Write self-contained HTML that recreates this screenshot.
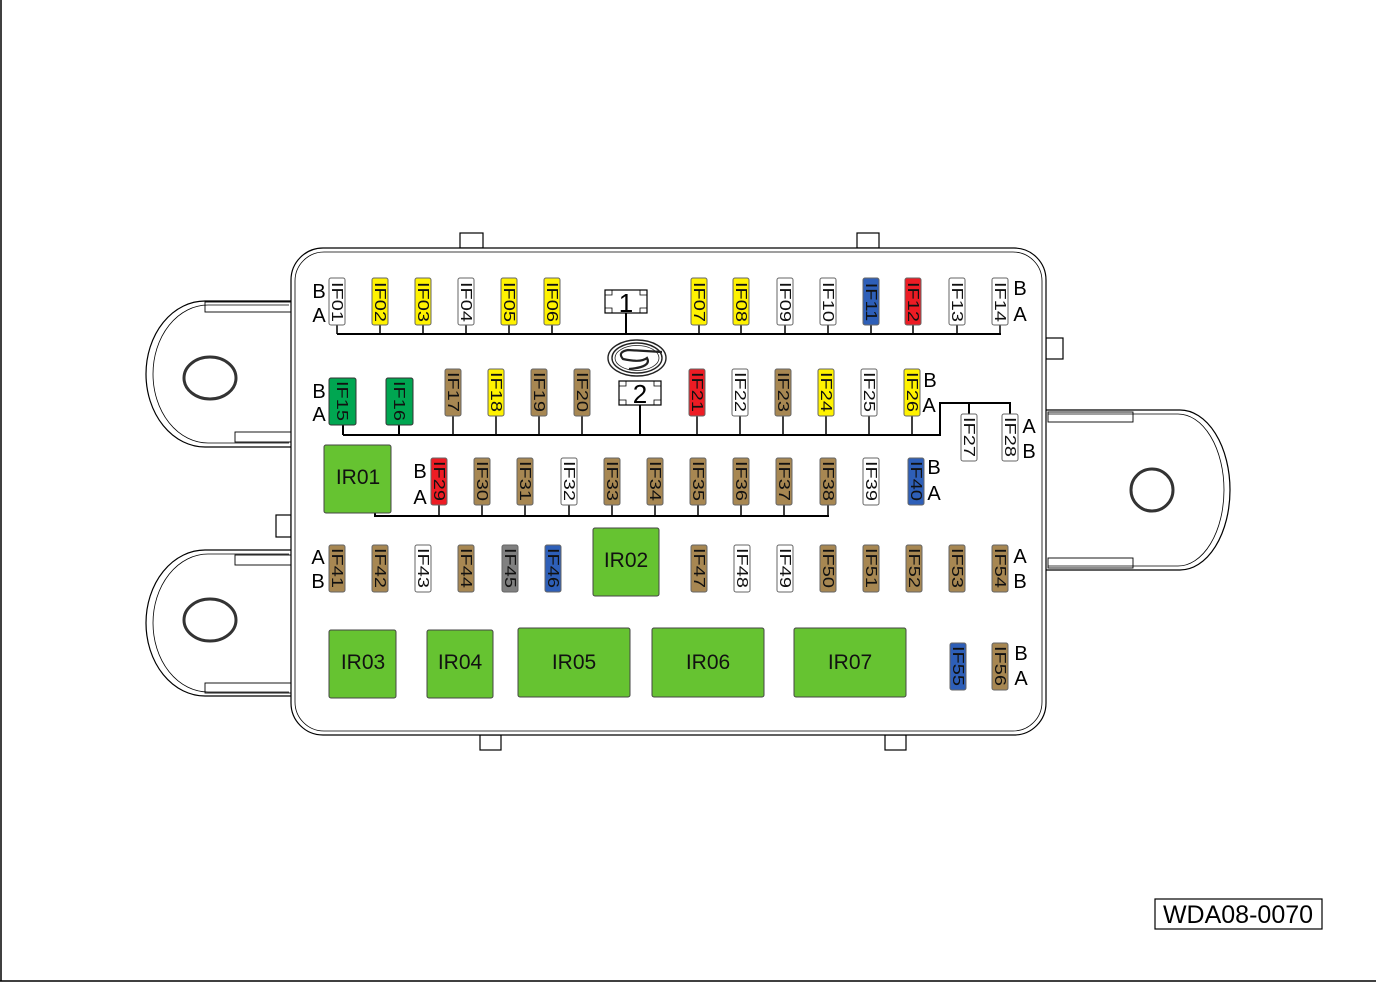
<!DOCTYPE html>
<html><head><meta charset="utf-8"><style>
html,body{margin:0;padding:0;background:#fff;}
svg{display:block;}
text{font-family:"Liberation Sans",sans-serif;}
</style></head><body>
<svg width="1376" height="983" viewBox="0 0 1376 983" xmlns="http://www.w3.org/2000/svg">
<rect x="0" y="0" width="1376" height="983" fill="#fff"/>
<line x1="1" y1="0" x2="1" y2="981" stroke="#000" stroke-width="1.5"/>
<line x1="0" y1="981" x2="1376" y2="981" stroke="#000" stroke-width="1.5"/>

<g fill="#fff" stroke="#000" stroke-width="1.2">
<path d="M291,301 H205 A59,73 0 0 0 205,447 H291"/>
<path d="M289,305 H208 A55,69 0 0 0 208,443 H289" fill="none" stroke-width="0.8"/>
<path d="M291,550 H205 A59,73 0 0 0 205,696 H291"/>
<path d="M289,554 H208 A55,69 0 0 0 208,692 H289" fill="none" stroke-width="0.8"/>
<rect x="205" y="302" width="86" height="10" fill="none" stroke-width="0.9"/>
<rect x="235" y="432" width="56" height="10" fill="none" stroke-width="0.9"/>
<rect x="235" y="555" width="56" height="10" fill="none" stroke-width="0.9"/>
<rect x="205" y="683" width="86" height="10" fill="none" stroke-width="0.9"/>
<path d="M1046,410 H1180 A50,80 0 0 1 1180,570 H1046"/>
<path d="M1048,414 H1178 A46,76 0 0 1 1178,566 H1048" fill="none" stroke-width="0.8"/>
<rect x="1048" y="412" width="85" height="10" fill="none" stroke-width="0.9"/>
<rect x="1048" y="558" width="85" height="10" fill="none" stroke-width="0.9"/>
<rect x="460" y="233" width="23" height="15"/>
<rect x="857" y="233" width="22" height="15"/>
<rect x="480" y="735" width="21" height="15"/>
<rect x="885" y="735" width="21" height="15"/>
<rect x="1046" y="338" width="17" height="21"/>
<rect x="276" y="515" width="15" height="22"/>
<rect x="291" y="248" width="755" height="487" rx="32"/>
<rect x="295" y="252" width="747" height="479" rx="29" fill="none" stroke-width="0.8"/>
</g>
<ellipse cx="210" cy="378" rx="26" ry="21" fill="none" stroke="#333" stroke-width="3"/>
<ellipse cx="210" cy="620" rx="26" ry="21" fill="none" stroke="#333" stroke-width="3"/>
<circle cx="1152" cy="490" r="21" fill="none" stroke="#333" stroke-width="3"/>

<g stroke="#000" stroke-width="2" fill="none">
<line x1="337" y1="334" x2="1001" y2="334"/>
<line x1="343" y1="435" x2="941" y2="435"/>
<polyline points="940,435 940,403 1010,403 1010,414"/>
<line x1="969" y1="403" x2="969" y2="414"/>
<line x1="626" y1="313" x2="626" y2="334"/>
<line x1="640" y1="405" x2="640" y2="435"/>
<line x1="343" y1="425" x2="343" y2="435"/>
<line x1="399" y1="425" x2="399" y2="435"/>
<polyline points="375,513 375,516 829,516"/>
</g>
<g stroke="#000" stroke-width="1.5">
<line x1="337" y1="325" x2="337" y2="334"/><line x1="380" y1="325" x2="380" y2="334"/><line x1="423" y1="325" x2="423" y2="334"/><line x1="466" y1="325" x2="466" y2="334"/><line x1="509" y1="325" x2="509" y2="334"/><line x1="552" y1="325" x2="552" y2="334"/><line x1="699" y1="325" x2="699" y2="334"/><line x1="741" y1="325" x2="741" y2="334"/><line x1="785" y1="325" x2="785" y2="334"/><line x1="828" y1="325" x2="828" y2="334"/><line x1="871" y1="325" x2="871" y2="334"/><line x1="913" y1="325" x2="913" y2="334"/><line x1="957" y1="325" x2="957" y2="334"/><line x1="1000" y1="325" x2="1000" y2="334"/>
<line x1="453" y1="416" x2="453" y2="435"/><line x1="496" y1="416" x2="496" y2="435"/><line x1="539" y1="416" x2="539" y2="435"/><line x1="582" y1="416" x2="582" y2="435"/><line x1="697" y1="416" x2="697" y2="435"/><line x1="740" y1="416" x2="740" y2="435"/><line x1="783" y1="416" x2="783" y2="435"/><line x1="826" y1="416" x2="826" y2="435"/><line x1="869" y1="416" x2="869" y2="435"/><line x1="912" y1="416" x2="912" y2="435"/>
<line x1="439" y1="505" x2="439" y2="516"/><line x1="482" y1="505" x2="482" y2="516"/><line x1="525" y1="505" x2="525" y2="516"/><line x1="569" y1="505" x2="569" y2="516"/><line x1="612" y1="505" x2="612" y2="516"/><line x1="655" y1="505" x2="655" y2="516"/><line x1="698" y1="505" x2="698" y2="516"/><line x1="741" y1="505" x2="741" y2="516"/><line x1="784" y1="505" x2="784" y2="516"/><line x1="828" y1="505" x2="828" y2="516"/>
</g>

<g fill="#fff" stroke="#000" stroke-width="1.2">
<rect x="605" y="290" width="42" height="23"/>
<path d="M605,295 H612 V290 M640,290 V295 H647 M605,308 H612 V313 M640,313 V308 H647" fill="none" stroke-width="0.8"/>
<rect x="619" y="381" width="42" height="24"/>
<path d="M619,386 H626 V381 M654,381 V386 H661 M619,400 H626 V405 M654,405 V400 H661" fill="none" stroke-width="0.8"/>
</g>
<text x="626" y="312" font-size="26" text-anchor="middle">1</text>
<text x="640" y="403" font-size="26" text-anchor="middle">2</text>
<g fill="none" stroke="#222">
<ellipse cx="637" cy="358" rx="29" ry="18" stroke-width="1.4"/>
<ellipse cx="637" cy="358" rx="25" ry="15" stroke-width="1.4"/>
<ellipse cx="637" cy="358" rx="22" ry="12.5" stroke-width="0.8"/>
<path d="M662,352 L628,350 Q617,352 623,359 Q641,363 647,358 Q652,367 629,369" stroke-width="2.2"/>
</g>

<g stroke="#666" stroke-width="1">
<rect x="329" y="278" width="16" height="47" rx="2" fill="#fff"/>
<rect x="372" y="278" width="16" height="47" rx="2" fill="#fff200"/>
<rect x="415" y="278" width="16" height="47" rx="2" fill="#fff200"/>
<rect x="458" y="278" width="16" height="47" rx="2" fill="#fff"/>
<rect x="501" y="278" width="16" height="47" rx="2" fill="#fff200"/>
<rect x="544" y="278" width="16" height="47" rx="2" fill="#fff200"/>
<rect x="691" y="278" width="16" height="47" rx="2" fill="#fff200"/>
<rect x="733" y="278" width="16" height="47" rx="2" fill="#fff200"/>
<rect x="777" y="278" width="16" height="47" rx="2" fill="#fff"/>
<rect x="820" y="278" width="16" height="47" rx="2" fill="#fff"/>
<rect x="863" y="278" width="16" height="47" rx="2" fill="#2e5fb8"/>
<rect x="905" y="278" width="16" height="47" rx="2" fill="#ed1c24"/>
<rect x="949" y="278" width="16" height="47" rx="2" fill="#fff"/>
<rect x="992" y="278" width="16" height="47" rx="2" fill="#fff"/>
<rect x="329" y="378" width="27" height="47" rx="2" fill="#00a651" stroke="#333"/>
<rect x="386" y="378" width="27" height="47" rx="2" fill="#00a651" stroke="#333"/>
<rect x="445" y="369" width="16" height="47" rx="2" fill="#a78752"/>
<rect x="488" y="369" width="16" height="47" rx="2" fill="#fff200"/>
<rect x="531" y="369" width="16" height="47" rx="2" fill="#a78752"/>
<rect x="574" y="369" width="16" height="47" rx="2" fill="#a78752"/>
<rect x="689" y="369" width="16" height="47" rx="2" fill="#ed1c24"/>
<rect x="732" y="369" width="16" height="47" rx="2" fill="#fff"/>
<rect x="775" y="369" width="16" height="47" rx="2" fill="#a78752"/>
<rect x="818" y="369" width="16" height="47" rx="2" fill="#fff200"/>
<rect x="861" y="369" width="16" height="47" rx="2" fill="#fff"/>
<rect x="904" y="369" width="16" height="47" rx="2" fill="#fff200"/>
<rect x="961" y="414" width="16" height="47" rx="2" fill="#fff"/>
<rect x="1002" y="414" width="16" height="47" rx="2" fill="#fff"/>
<rect x="431" y="458" width="16" height="47" rx="2" fill="#ed1c24"/>
<rect x="474" y="458" width="16" height="47" rx="2" fill="#a78752"/>
<rect x="517" y="458" width="16" height="47" rx="2" fill="#a78752"/>
<rect x="561" y="458" width="16" height="47" rx="2" fill="#fff"/>
<rect x="604" y="458" width="16" height="47" rx="2" fill="#a78752"/>
<rect x="647" y="458" width="16" height="47" rx="2" fill="#a78752"/>
<rect x="690" y="458" width="16" height="47" rx="2" fill="#a78752"/>
<rect x="733" y="458" width="16" height="47" rx="2" fill="#a78752"/>
<rect x="776" y="458" width="16" height="47" rx="2" fill="#a78752"/>
<rect x="820" y="458" width="16" height="47" rx="2" fill="#a78752"/>
<rect x="863" y="458" width="16" height="47" rx="2" fill="#fff"/>
<rect x="908" y="458" width="16" height="47" rx="2" fill="#2e5fb8"/>
<rect x="329" y="545" width="16" height="47" rx="2" fill="#a78752"/>
<rect x="372" y="545" width="16" height="47" rx="2" fill="#a78752"/>
<rect x="415" y="545" width="16" height="47" rx="2" fill="#fff"/>
<rect x="458" y="545" width="16" height="47" rx="2" fill="#a78752"/>
<rect x="502" y="545" width="16" height="47" rx="2" fill="#808080"/>
<rect x="545" y="545" width="16" height="47" rx="2" fill="#2e5fb8"/>
<rect x="691" y="545" width="16" height="47" rx="2" fill="#a78752"/>
<rect x="734" y="545" width="16" height="47" rx="2" fill="#fff"/>
<rect x="777" y="545" width="16" height="47" rx="2" fill="#fff"/>
<rect x="820" y="545" width="16" height="47" rx="2" fill="#a78752"/>
<rect x="863" y="545" width="16" height="47" rx="2" fill="#a78752"/>
<rect x="906" y="545" width="16" height="47" rx="2" fill="#a78752"/>
<rect x="949" y="545" width="16" height="47" rx="2" fill="#a78752"/>
<rect x="992" y="545" width="16" height="47" rx="2" fill="#a78752"/>
<rect x="950" y="643" width="16" height="47" rx="2" fill="#2e5fb8"/>
<rect x="992" y="643" width="16" height="47" rx="2" fill="#a78752"/>
</g>

<g font-size="20" text-anchor="middle" dominant-baseline="central" fill="#111">
<text transform="translate(337,302) rotate(90) scale(1,0.78)">IF01</text>
<text transform="translate(380,302) rotate(90) scale(1,0.78)">IF02</text>
<text transform="translate(423,302) rotate(90) scale(1,0.78)">IF03</text>
<text transform="translate(466,302) rotate(90) scale(1,0.78)">IF04</text>
<text transform="translate(509,302) rotate(90) scale(1,0.78)">IF05</text>
<text transform="translate(552,302) rotate(90) scale(1,0.78)">IF06</text>
<text transform="translate(699,302) rotate(90) scale(1,0.78)">IF07</text>
<text transform="translate(741,302) rotate(90) scale(1,0.78)">IF08</text>
<text transform="translate(785,302) rotate(90) scale(1,0.78)">IF09</text>
<text transform="translate(828,302) rotate(90) scale(1,0.78)">IF10</text>
<text transform="translate(871,302) rotate(90) scale(1,0.78)">IF11</text>
<text transform="translate(913,302) rotate(90) scale(1,0.78)">IF12</text>
<text transform="translate(957,302) rotate(90) scale(1,0.78)">IF13</text>
<text transform="translate(1000,302) rotate(90) scale(1,0.78)">IF14</text>
<text transform="translate(342,401) rotate(90) scale(1,0.78)">IF15</text>
<text transform="translate(399,401) rotate(90) scale(1,0.78)">IF16</text>
<text transform="translate(453,392) rotate(90) scale(1,0.78)">IF17</text>
<text transform="translate(496,392) rotate(90) scale(1,0.78)">IF18</text>
<text transform="translate(539,392) rotate(90) scale(1,0.78)">IF19</text>
<text transform="translate(582,392) rotate(90) scale(1,0.78)">IF20</text>
<text transform="translate(697,392) rotate(90) scale(1,0.78)">IF21</text>
<text transform="translate(740,392) rotate(90) scale(1,0.78)">IF22</text>
<text transform="translate(783,392) rotate(90) scale(1,0.78)">IF23</text>
<text transform="translate(826,392) rotate(90) scale(1,0.78)">IF24</text>
<text transform="translate(869,392) rotate(90) scale(1,0.78)">IF25</text>
<text transform="translate(912,392) rotate(90) scale(1,0.78)">IF26</text>
<text transform="translate(969,437) rotate(90) scale(1,0.78)">IF27</text>
<text transform="translate(1010,437) rotate(90) scale(1,0.78)">IF28</text>
<text transform="translate(439,481) rotate(90) scale(1,0.78)">IF29</text>
<text transform="translate(482,481) rotate(90) scale(1,0.78)">IF30</text>
<text transform="translate(525,481) rotate(90) scale(1,0.78)">IF31</text>
<text transform="translate(569,481) rotate(90) scale(1,0.78)">IF32</text>
<text transform="translate(612,481) rotate(90) scale(1,0.78)">IF33</text>
<text transform="translate(655,481) rotate(90) scale(1,0.78)">IF34</text>
<text transform="translate(698,481) rotate(90) scale(1,0.78)">IF35</text>
<text transform="translate(741,481) rotate(90) scale(1,0.78)">IF36</text>
<text transform="translate(784,481) rotate(90) scale(1,0.78)">IF37</text>
<text transform="translate(828,481) rotate(90) scale(1,0.78)">IF38</text>
<text transform="translate(871,481) rotate(90) scale(1,0.78)">IF39</text>
<text transform="translate(916,481) rotate(90) scale(1,0.78)">IF40</text>
<text transform="translate(337,568) rotate(90) scale(1,0.78)">IF41</text>
<text transform="translate(380,568) rotate(90) scale(1,0.78)">IF42</text>
<text transform="translate(423,568) rotate(90) scale(1,0.78)">IF43</text>
<text transform="translate(466,568) rotate(90) scale(1,0.78)">IF44</text>
<text transform="translate(510,568) rotate(90) scale(1,0.78)">IF45</text>
<text transform="translate(553,568) rotate(90) scale(1,0.78)">IF46</text>
<text transform="translate(699,568) rotate(90) scale(1,0.78)">IF47</text>
<text transform="translate(742,568) rotate(90) scale(1,0.78)">IF48</text>
<text transform="translate(785,568) rotate(90) scale(1,0.78)">IF49</text>
<text transform="translate(828,568) rotate(90) scale(1,0.78)">IF50</text>
<text transform="translate(871,568) rotate(90) scale(1,0.78)">IF51</text>
<text transform="translate(914,568) rotate(90) scale(1,0.78)">IF52</text>
<text transform="translate(957,568) rotate(90) scale(1,0.78)">IF53</text>
<text transform="translate(1000,568) rotate(90) scale(1,0.78)">IF54</text>
<text transform="translate(958,666) rotate(90) scale(1,0.78)">IF55</text>
<text transform="translate(1000,666) rotate(90) scale(1,0.78)">IF56</text>
</g>

<g fill="#66c331" stroke="#444" stroke-width="1">
<rect x="324" y="445" width="67" height="68" rx="2"/>
<rect x="593" y="528" width="66" height="68" rx="2"/>
<rect x="329" y="630" width="67" height="68" rx="2"/>
<rect x="427" y="630" width="66" height="68" rx="2"/>
<rect x="518" y="628" width="112" height="69" rx="2"/>
<rect x="652" y="628" width="112" height="69" rx="2"/>
<rect x="794" y="628" width="112" height="69" rx="2"/>
</g>
<g font-size="21" text-anchor="middle" fill="#111">
<text x="358" y="484">IR01</text>
<text x="626" y="567">IR02</text>
<text x="363" y="669">IR03</text>
<text x="460" y="669">IR04</text>
<text x="574" y="669">IR05</text>
<text x="708" y="669">IR06</text>
<text x="850" y="669">IR07</text>
</g>

<g font-size="20" text-anchor="middle" fill="#000">
<text x="319" y="298">B</text><text x="319" y="322">A</text>
<text x="1020" y="295">B</text><text x="1020" y="321">A</text>
<text x="319" y="398">B</text><text x="319" y="421">A</text>
<text x="930" y="387">B</text><text x="929" y="412">A</text>
<text x="1029" y="433">A</text><text x="1029" y="458">B</text>
<text x="420" y="478">B</text><text x="420" y="504">A</text>
<text x="934" y="474">B</text><text x="934" y="500">A</text>
<text x="318" y="564">A</text><text x="318" y="588">B</text>
<text x="1020" y="563">A</text><text x="1020" y="588">B</text>
<text x="1021" y="660">B</text><text x="1021" y="685">A</text>
</g>

<rect x="1155" y="899" width="167" height="30" fill="#fff" stroke="#000" stroke-width="1.2"/>
<text x="1238" y="923" font-size="25" text-anchor="middle" fill="#000">WDA08-0070</text>
</svg>
</body></html>
